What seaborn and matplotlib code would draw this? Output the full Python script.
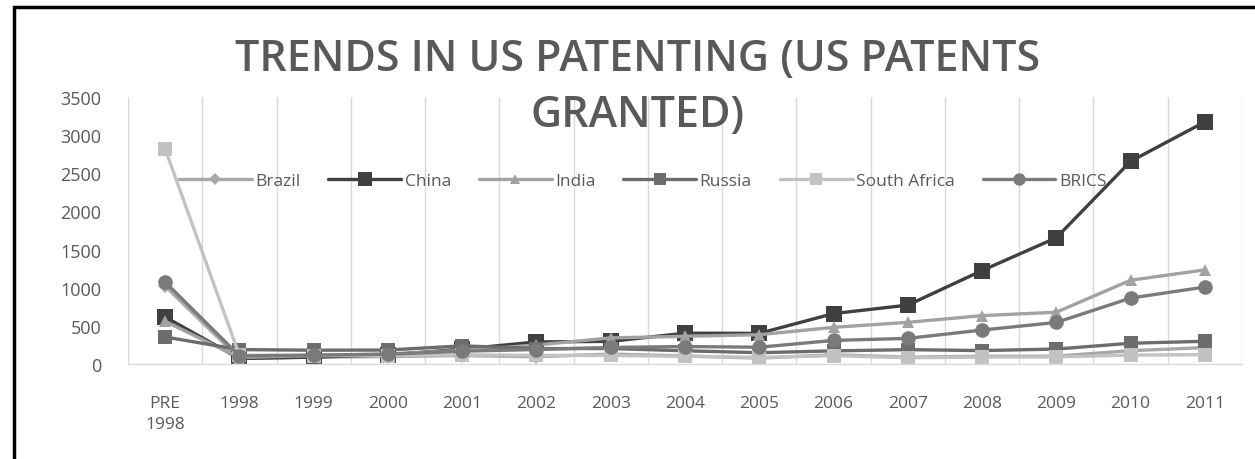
import matplotlib
matplotlib.use("Agg")
import matplotlib.pyplot as plt
import seaborn as sns
import pandas as pd
from matplotlib.patches import Rectangle
from matplotlib.lines import Line2D

years = ["PRE\n1998", "1998", "1999", "2000", "2001", "2002", "2003", "2004",
         "2005", "2006", "2007", "2008", "2009", "2010", "2011"]

brazil = [1020, 74, 91, 98, 110, 96, 130, 106, 77, 121, 90, 101, 103, 175, 215]
china = [616, 72, 90, 119, 195, 289, 297, 404, 402, 661, 772, 1225, 1655, 2657, 3174]
india = [560, 85, 112, 131, 178, 249, 342, 363, 384, 481, 546, 634, 679, 1098, 1234]
russia = [354, 189, 181, 183, 238, 202, 203, 173, 148, 172, 188, 176, 196, 272, 298]
south_africa = [2820, 115, 110, 111, 120, 113, 112, 100, 87, 109, 82, 91, 93, 116, 123]
brics = [1074, 107, 117, 128, 168, 190, 217, 229, 220, 309, 336, 445, 545, 864, 1009]

series = {
    "Brazil": brazil,
    "China": china,
    "India": india,
    "Russia": russia,
    "South Africa": south_africa,
    "BRICS": brics,
}

df = pd.concat(
    [pd.DataFrame({"Year": years, "Patents": vals, "Country": name})
     for name, vals in series.items()],
    ignore_index=True,
)

palette = {
    "Brazil": "#a8a8a8",
    "China": "#404040",
    "India": "#a2a2a2",
    "Russia": "#6c6c6c",
    "South Africa": "#c2c2c2",
    "BRICS": "#7a7a7a",
}
markers = {
    "Brazil": "D",
    "China": "s",
    "India": "^",
    "Russia": "s",
    "South Africa": "s",
    "BRICS": "o",
}
msizes = {"Brazil": 7, "China": 11.5, "India": 9, "Russia": 9.5,
          "South Africa": 9.5, "BRICS": 10.5}

sns.set_theme(style="white")
plt.rcParams["font.family"] = ["Open Sans", "DejaVu Sans"]

fig = plt.figure(figsize=(12.55, 4.6), dpi=100)
ax = fig.add_axes([128 / 1255, 1 - 365 / 460, 1114 / 1255, 267 / 460])

sns.lineplot(data=df, x="Year", y="Patents", hue="Country", style="Country",
             palette=palette, markers=markers, dashes=False, linewidth=2.4,
             markeredgewidth=0, sort=False, ax=ax, legend=False)

# per-series marker sizes
for line, name in zip(ax.lines, series.keys()):
    line.set_markersize(msizes[name])

ax.set_ylim(0, 3500)
ax.set_yticks(range(0, 3501, 500))
ax.set_xlim(-0.5, len(years) - 0.5)
ax.set_xticks(range(len(years)))
ax.set_xticklabels(years)
ax.set_xlabel("")
ax.set_ylabel("")

# vertical gridlines between categories
for b in range(len(years) + 1):
    ax.axvline(b - 0.5, color="#d9d9d9", linewidth=1, zorder=0)

for side in ["top", "right", "left"]:
    ax.spines[side].set_visible(False)
ax.spines["bottom"].set_color("#d9d9d9")
ax.spines["bottom"].set_linewidth(1)

ax.tick_params(axis="y", length=0, pad=19, labelsize=13, labelcolor="#595959")
ax.tick_params(axis="x", length=0, pad=22, labelsize=12.5, labelcolor="#595959")
for t in ax.get_xticklabels():
    t.set_linespacing(1.45)

# legend inside the plot
handles = [Line2D([0], [0], color=palette[n], marker=markers[n], linewidth=2.4,
                  markersize=msizes[n] * 0.85, markeredgewidth=0)
           for n in series]
ax.legend(handles, list(series.keys()), loc="center", ncol=6,
          bbox_to_anchor=(0.462, 0.685), frameon=False, fontsize=12.5,
          handlelength=4.2, columnspacing=1.6, handletextpad=0.2,
          labelcolor="#595959")

fig.text(0.508, 1 - 60 / 460, "TRENDS IN US PATENTING (US PATENTS",
         ha="center", va="center", fontsize=31, color="#595959",
         fontweight="semibold")
fig.text(0.508, 1 - 116 / 460, "GRANTED)", ha="center", va="center",
         fontsize=31, color="#595959", fontweight="semibold", zorder=5)

# outer frame
fig.patches.append(Rectangle((14 / 1255, -0.1), 1.2, 1 - 8 / 460 + 0.1,
                             transform=fig.transFigure, fill=False,
                             edgecolor="black", linewidth=2.5))

fig.savefig("out.png", dpi=100)
